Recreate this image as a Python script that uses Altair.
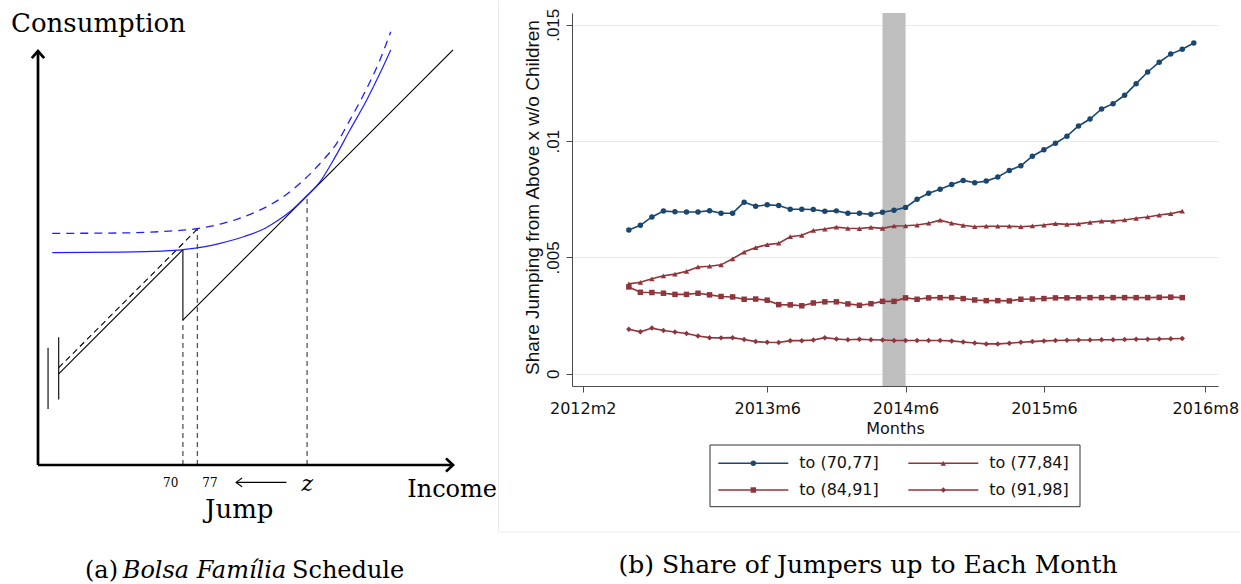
import altair as alt
import pandas as pd

SERIF = "DejaVu Serif"
SANS_H = "DejaVu Sans"       # horizontal Stata text
SANS_V = "Liberation Sans"   # rotated Stata text

# ---------------------------------------------------------------
# Panel (b): share of households without children jumping from
# above into each income bracket, monthly (index 0 = 2012m2)
# ---------------------------------------------------------------
SERIES = ["to (70,77]", "to (77,84]", "to (84,91]", "to (91,98]"]
SERIES_COLORS = ["#1a476f", "#90353b", "#90353b", "#90353b"]
SERIES_SHAPES = ["circle", "triangle-up", "square", "diamond"]
START_INDEX = 4  # all series start in 2012m6

share_70_77 = [
    0.00618, 0.00638, 0.00674, 0.00699, 0.00696, 0.00695, 0.00695, 0.00701, 0.00690, 0.00690,
    0.00737, 0.00720, 0.00726, 0.00723, 0.00707, 0.00707, 0.00706, 0.00698, 0.00700, 0.00690,
    0.00690, 0.00685, 0.00694, 0.00703, 0.00715, 0.00750, 0.00776, 0.00793, 0.00813, 0.00831,
    0.00821, 0.00828, 0.00846, 0.00874, 0.00894, 0.00935, 0.00963, 0.00991, 0.01021, 0.01065,
    0.01095, 0.01138, 0.01161, 0.01197, 0.01247, 0.01297, 0.01339, 0.01374, 0.01395, 0.01422,
]
share_77_84 = [
    0.00386, 0.00393, 0.00408, 0.00421, 0.00428, 0.00440, 0.00459, 0.00462, 0.00468, 0.00494,
    0.00523, 0.00542, 0.00555, 0.00561, 0.00589, 0.00595, 0.00616, 0.00622, 0.00630, 0.00625,
    0.00624, 0.00629, 0.00625, 0.00635, 0.00636, 0.00639, 0.00647, 0.00660, 0.00647, 0.00638,
    0.00632, 0.00634, 0.00634, 0.00634, 0.00632, 0.00635, 0.00639, 0.00645, 0.00642, 0.00644,
    0.00651, 0.00656, 0.00656, 0.00661, 0.00668, 0.00674, 0.00682, 0.00688, 0.00699,
]
share_84_91 = [
    0.00373, 0.00350, 0.00349, 0.00346, 0.00341, 0.00341, 0.00346, 0.00339, 0.00332, 0.00330,
    0.00320, 0.00321, 0.00316, 0.00297, 0.00296, 0.00292, 0.00304, 0.00309, 0.00309, 0.00300,
    0.00294, 0.00301, 0.00311, 0.00311, 0.00326, 0.00320, 0.00326, 0.00327, 0.00327, 0.00323,
    0.00317, 0.00314, 0.00314, 0.00313, 0.00320, 0.00321, 0.00323, 0.00326, 0.00326, 0.00326,
    0.00327, 0.00327, 0.00327, 0.00327, 0.00327, 0.00327, 0.00328, 0.00329, 0.00327,
]
share_91_98 = [
    0.00191, 0.00180, 0.00196, 0.00186, 0.00179, 0.00173, 0.00162, 0.00155, 0.00154, 0.00155,
    0.00147, 0.00138, 0.00135, 0.00134, 0.00142, 0.00142, 0.00145, 0.00155, 0.00149, 0.00146,
    0.00148, 0.00146, 0.00145, 0.00143, 0.00143, 0.00143, 0.00143, 0.00143, 0.00141, 0.00136,
    0.00132, 0.00128, 0.00128, 0.00131, 0.00135, 0.00138, 0.00141, 0.00143, 0.00144, 0.00145,
    0.00145, 0.00146, 0.00146, 0.00147, 0.00148, 0.00148, 0.00149, 0.00150, 0.00151,
]

MONTH_TICKS = [0, 16, 28, 40, 54]        # 2012m2, 2013m6, 2014m6, 2015m6, 2016m8
SHARE_TICKS = [0, 0.005, 0.01, 0.015]
REFORM_BAND = [26, 28]                   # 2014m4 - 2014m6

# ---------------------------------------------------------------
# Panel (a): stylised budget set (income / consumption units)
# ---------------------------------------------------------------
AXES = {
    "consumption_axis": ([0, 0], [0, 200]),
    "consumption_head": ([-3.0, 0, 3.0], [196.6, 200, 196.6]),
    "income_axis": ([0, 200.5], [0, 0]),
    "income_head": ([197.1, 200.5, 197.1], [3.2, 0, -3.2]),
}
BUDGET = {
    "with_benefit": ([10, 70], [44, 104]),
    "benefit_loss": ([70, 70], [104, 70]),
    "without_benefit": ([70, 200.5], [70, 200.5]),
    "break_left": ([4.85, 4.85], [27, 56.7]),
    "break_right": ([10, 10], [31.7, 61.7]),
    "jump_arrow": ([120, 95.7], [-8.4, -8.4]),
    "jump_head": ([98.6, 95.7, 98.6], [-6.3, -8.4, -10.5]),
}
BUDGET_HIGHER = {"higher_benefit": ([10, 77], [47, 114])}
GUIDES = {
    "at_70": ([70, 70], [0, 70]),
    "at_77": ([77, 77], [0, 114]),
    "at_z": ([130, 130], [0, 130]),
}
INDIFF_X = [6.9, 40, 60, 70, 80, 88, 100, 110, 116, 122, 130, 136, 142.7, 150.7, 158.8, 165.2, 170.4]
INDIFF_Y = [102.6, 102.8, 103.3, 104, 105.4, 107.1, 110.5, 114.5, 118.2, 122.6, 130.2, 136.5,
            147.3, 161.8, 176.3, 189.2, 200.5]
INDIFF_HIGH_X = [6.9, 40, 60, 77, 88, 97, 105.6, 112, 118.5, 126.6, 137, 144.3, 150.7, 158, 165.2, 170.4]
INDIFF_HIGH_Y = [111.9, 112.1, 112.8, 114.2, 116.4, 119, 122.4, 125.6, 129.6, 136.1, 146.5, 155.4,
                 166.7, 180.3, 195.7, 209.3]

# ---------------- layout ----------------
TOP = 13            # both panels' plot areas start this far below the top edge

# ---------------- panel (a) ----------------
K = 2.07                  # pixels per unit
OX, OY = 38, 465 - TOP    # origin inside the panel's plot area
A_W, A_H = 498, 584 - TOP
a_xs = alt.Scale(domain=[-OX / K, (A_W - OX) / K], nice=False, zero=False)
a_ys = alt.Scale(domain=[-(A_H - OY) / K, OY / K], nice=False, zero=False)


def segments_frame(segs):
    rows = []
    for name, (xs, ys) in segs.items():
        for i, (x, y) in enumerate(zip(xs, ys)):
            rows.append({"seg": name, "i": i, "x": x, "y": y})
    return pd.DataFrame(rows)


def seg_layer(df, color, width, dash=None, interpolate="linear"):
    kw = dict(color=color, strokeWidth=width, interpolate=interpolate)
    if dash:
        kw["strokeDash"] = dash
    return alt.Chart(df).mark_line(**kw).encode(
        x=alt.X("x:Q", scale=a_xs, axis=None),
        y=alt.Y("y:Q", scale=a_ys, axis=None),
        detail="seg:N",
        order="i:Q",
    )


def note(text, x, y, size, align="left", font=SERIF, style="normal", color="black"):
    # y is given from the top edge of the figure
    return alt.Chart(pd.DataFrame({"label": [text]})).mark_text(
        align=align, baseline="alphabetic", font=font, fontSize=size,
        fontStyle=style, color=color,
    ).encode(x=alt.value(x), y=alt.value(y - TOP), text="label:N")


indiff = segments_frame({"current": (INDIFF_X, INDIFF_Y)})
indiff_high = segments_frame({"higher": (INDIFF_HIGH_X, INDIFF_HIGH_Y)})

panel_a = alt.layer(
    seg_layer(segments_frame(GUIDES), "#555555", 1.3, dash=[5, 4]),
    seg_layer(segments_frame(BUDGET_HIGHER), "black", 1.1, dash=[6, 4]),
    seg_layer(segments_frame(BUDGET), "black", 1.1),
    seg_layer(indiff_high, "#1f1fff", 1.3, dash=[8, 6], interpolate="monotone"),
    seg_layer(indiff, "#1f1fff", 1.2, interpolate="monotone"),
    seg_layer(segments_frame(AXES), "black", 2.7),
    note("Consumption", 11, 32, 26),
    note("Income", 497, 497, 24, align="right"),
    note("70", 170.7, 486.7, 12, align="center"),
    note("77", 210, 486.7, 12, align="center"),
    note("z", 307.3, 490.7, 22, align="center", style="italic"),
    note("Jump", 205, 518.3, 26),
    note("(a)", 118, 578, 24, align="right"),
    note("Bolsa Família", 204.5, 578, 24, align="center", style="italic"),
    note("Schedule", 292, 578, 24),
).properties(width=A_W, height=A_H)

# ---------------- panel (b) ----------------
B_W, B_H = 646, 373
b_xs = alt.Scale(domain=[-0.93, 55.1], nice=False, zero=False)
b_ys = alt.Scale(domain=[-0.000529, 0.015507], nice=False, zero=False)
color_scale = alt.Scale(domain=SERIES, range=SERIES_COLORS)
shape_scale = alt.Scale(domain=SERIES, range=SERIES_SHAPES)

rows = []
for name, vals in zip(SERIES, [share_70_77, share_77_84, share_84_91, share_91_98]):
    for i, v in enumerate(vals):
        rows.append({"series": name, "month": START_INDEX + i, "share": v})
shares = pd.DataFrame(rows)

AXIS_GRAY = "#4d4d4d"
x_axis = alt.Axis(
    values=MONTH_TICKS,
    labelExpr="floor((datum.value + 1) / 12) + 2012 + 'm' + ((datum.value + 1) % 12 + 1)",
    title="Months", grid=False,
    domainColor=AXIS_GRAY, tickColor=AXIS_GRAY, tickSize=6,
    labelFont=SANS_H, labelFontSize=16, labelColor="#111111",
    labelBaseline="alphabetic", labelPadding=21, labelFlush=False, labelOverlap=False,
    titleFont=SANS_H, titleFontSize=16, titleFontWeight="normal", titleColor="#111111",
    titleBaseline="alphabetic", titleY=47,
)
y_axis = alt.Axis(
    values=SHARE_TICKS,
    labelExpr="datum.value == 0 ? '0' : replace(format(datum.value, '.3~f'), '0.', '.')",
    title="Share Jumping from Above x w/o Children",
    grid=True, gridColor="#e4ecee", gridWidth=1,
    domainColor=AXIS_GRAY, tickColor=AXIS_GRAY, tickSize=6,
    labelFont=SANS_V, labelFontSize=17, labelColor="#111111",
    labelAngle=270, labelAlign="center", labelBaseline="alphabetic", labelPadding=8,
    labelOverlap=False,
    titleFont=SANS_V, titleFontSize=19, titleFontWeight="normal", titleColor="#111111",
    titleAngle=270, titleAlign="center", titleBaseline="alphabetic", titleX=-34, titleY=184,
)

band = alt.Chart(pd.DataFrame({"start": [REFORM_BAND[0]], "end": [REFORM_BAND[1]]})).mark_rect(
    color="#bebebe"
).encode(x=alt.X("start:Q", scale=b_xs, axis=x_axis), x2="end:Q")

lines = alt.Chart(shares).mark_line(strokeWidth=1.6).encode(
    x=alt.X("month:Q", scale=b_xs, axis=x_axis),
    y=alt.Y("share:Q", scale=b_ys, axis=y_axis),
    color=alt.Color("series:N", scale=color_scale, legend=None),
)
points = alt.Chart(shares).mark_point(filled=True, opacity=1, size=30).encode(
    x=alt.X("month:Q", scale=b_xs, axis=x_axis),
    y=alt.Y("share:Q", scale=b_ys, axis=y_axis),
    color=alt.Color("series:N", scale=color_scale, legend=None),
    shape=alt.Shape("series:N", scale=shape_scale, legend=None),
)

# legend drawn by hand: two columns, two rows, boxed
LEG_BOX = (138, 508, 432, 493.7)
LEG_COL_X = [146.3, 336.3]
LEG_ROW_Y = [450.3, 477]
LEG_LINE = 70
legend_layers = [
    alt.Chart(pd.DataFrame({"k": [0]})).mark_rect(
        fillOpacity=0, stroke="#333333", strokeWidth=1
    ).encode(x=alt.value(LEG_BOX[0]), x2=alt.value(LEG_BOX[1]),
             y=alt.value(LEG_BOX[2]), y2=alt.value(LEG_BOX[3]))
]
for idx, name in enumerate(SERIES):
    x0 = LEG_COL_X[idx % 2]
    y0 = LEG_ROW_Y[idx // 2]
    one = alt.Chart(pd.DataFrame({"series": [name]}))
    legend_layers += [
        one.mark_rule(color=SERIES_COLORS[idx], strokeWidth=1.6).encode(
            x=alt.value(x0), x2=alt.value(x0 + LEG_LINE), y=alt.value(y0)),
        one.mark_point(filled=True, opacity=1, size=30, color=SERIES_COLORS[idx],
                       shape=SERIES_SHAPES[idx]).encode(
            x=alt.value(x0 + LEG_LINE / 2), y=alt.value(y0)),
        one.mark_text(align="left", baseline="middle", font=SANS_H, fontSize=16,
                      color="#111111").encode(
            x=alt.value(x0 + LEG_LINE + 11), y=alt.value(y0), text="series:N"),
    ]

# faint frame of the graph region on its left and bottom edges
frame = [
    alt.Chart(pd.DataFrame({"k": [0]})).mark_rule(color="#ececec", strokeWidth=1).encode(
        x=alt.value(-73.5), y=alt.value(0.5 - TOP), y2=alt.value(519)),
    alt.Chart(pd.DataFrame({"k": [0]})).mark_rule(color="#ececec", strokeWidth=1).encode(
        x=alt.value(-73.5), x2=alt.value(668), y=alt.value(519)),
]

caption_b = alt.Chart(pd.DataFrame({"label": ["(b) Share of Jumpers up to Each Month"]})).mark_text(
    align="center", baseline="alphabetic", font=SERIF, fontSize=25, color="black"
).encode(x=alt.value(296), y=alt.value(560), text="label:N")

panel_b = alt.layer(
    *frame, band, lines, points, *legend_layers, caption_b
).properties(width=B_W, height=B_H)

chart = alt.hconcat(panel_a, panel_b, spacing=0).properties(
    padding=0, background="white"
).configure_view(strokeWidth=0)

chart.save("out.html", embed_options={"renderer": "svg", "actions": False})
